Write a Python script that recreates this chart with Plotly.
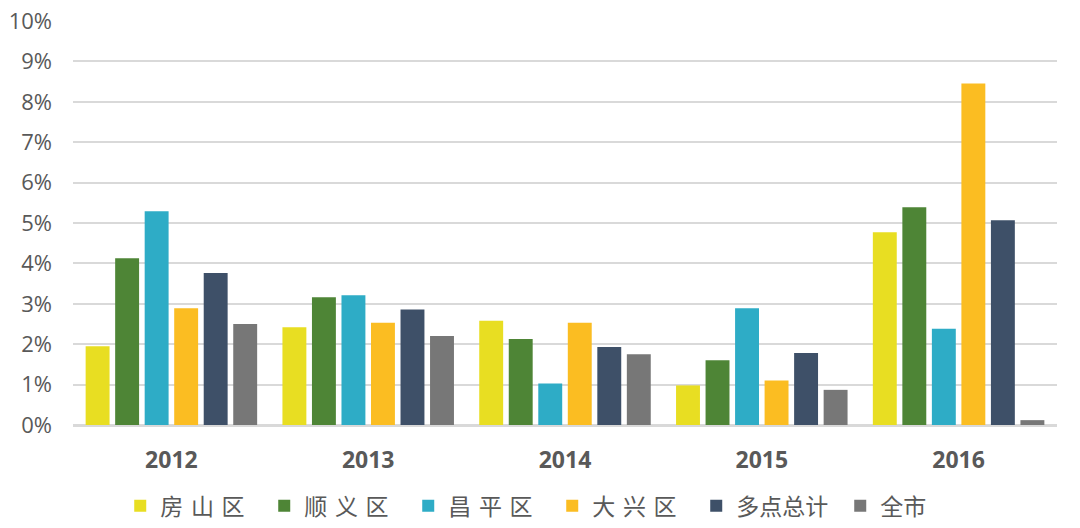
import plotly.graph_objects as go

years = ["2012", "2013", "2014", "2015", "2016"]
series_names = ["房\u2004山\u2004区", "顺\u2004义\u2004区", "昌\u2004平\u2004区", "大\u2004兴\u2004区", "多点总计", "全市"]
fangshan = [1.95, 2.42, 2.58, 0.98, 4.77]
shunyi = [4.13, 3.16, 2.13, 1.60, 5.39]
changping = [5.29, 3.21, 1.03, 2.89, 2.38]
daxing = [2.89, 2.53, 2.53, 1.10, 8.45]
duodian = [3.76, 2.86, 1.93, 1.78, 5.07]
quanshi = [2.50, 2.20, 1.75, 0.87, 0.12]
colors = ["#E8DE22", "#4E8536", "#2EACC6", "#FBBD22", "#3E5068", "#777777"]
y_ticks = list(range(0, 11))
y_tick_labels = [f"{v}%" for v in y_ticks]

all_series = [fangshan, shunyi, changping, daxing, duodian, quanshi]

fig = go.Figure()
for name, vals, col in zip(series_names, all_series, colors):
    fig.add_trace(go.Bar(x=years, y=vals, name=name, marker_color=col,
                         marker_line_width=0))

fig.update_layout(
    width=1080, height=528,
    margin=dict(l=73, r=23, t=21, b=103, autoexpand=False),
    plot_bgcolor="white", paper_bgcolor="white",
    barmode="group", bargap=0.1, bargroupgap=0.19,
    font=dict(family="Open Sans, Noto Sans CJK SC", color="#595959"),
    legend=dict(orientation="h", x=0.048, xanchor="left",
                yref="container", y=0.042, yanchor="middle",
                font=dict(size=23, family="Noto Sans CJK SC", color="#595959"),
                itemwidth=30, traceorder="normal", tracegroupgap=0,
                entrywidth=99, entrywidthmode="pixels"),
    showlegend=True,
)
fig.update_xaxes(tickfont=dict(size=23, family="Open Sans", color="#595959", weight="bold"),
                 showline=True, linecolor="#D9D9D9", linewidth=1.5,
                 ticklabelstandoff=14, ticks="")
fig.update_yaxes(range=[0, 10], tickvals=y_ticks, ticktext=y_tick_labels,
                 tickfont=dict(size=22, family="Open Sans", color="#595959"),
                 showgrid=True, gridcolor="#D9D9D9", gridwidth=1.5,
                 zeroline=True, zerolinecolor="#D9D9D9", zerolinewidth=1.5,
                 ticklabelstandoff=20)

fig.write_html("out.html")
